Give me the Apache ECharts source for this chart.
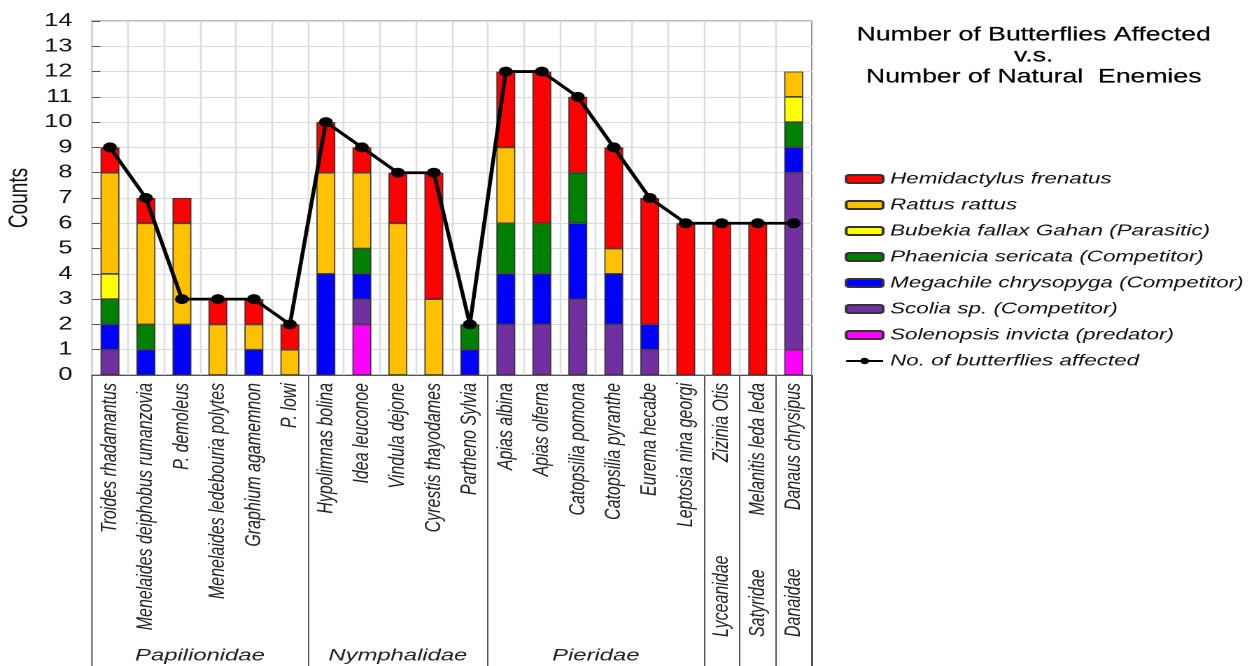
<!DOCTYPE html>
<html>
<head>
<meta charset="utf-8">
<title>Number of Butterflies Affected v.s. Number of Natural Enemies</title>
<script src="https://cdn.jsdelivr.net/npm/echarts@6/dist/echarts.min.js"></script>
<style>
  html, body { margin: 0; padding: 0; background: #ffffff; }
  #wrap { width: 1254px; height: 666px; overflow: hidden; position: relative; }
  /* the figure is laid out on a narrower canvas and widened horizontally */
  #chart { width: 896px; height: 666px; transform: scaleX(1.39955); transform-origin: 0 0; }
</style>
</head>
<body>
<div id="wrap"><div id="chart"></div></div>
<script>
// Butterfly species (x categories), grouped by family
const species = [
  'Troides rhadamantus', 'Menelaides deiphobus rumanzovia', 'P. demoleus',
  'Menelaides ledebouria polytes', 'Graphium agamemnon', 'P. lowi',
  'Hypolimnas bolina', 'Idea leuconoe', 'Vindula dejone', 'Cyrestis thayodames',
  'Partheno Sylvia', 'Apias albina', 'Apias olferna', 'Catopsilia pomona',
  'Catopsilia pyranthe', 'Eurema hecabe', 'Leptosia nina georgi',
  'Zizinia Otis', 'Melanitis leda leda', 'Danaus chrysipus'
];
const families = ['Papilionidae', 'Nymphalidae', 'Pieridae', 'Lyceanidae', 'Satyridae', 'Danaidae'];
const familyFirst = [0, 6, 11, 17, 18, 19];
const familyLast = [5, 10, 16, 17, 18, 19];

// Natural enemies, stacked from the bottom up
const solenopsis   = [0, 0, 0, 0, 0, 0, 0, 2, 0, 0, 0, 0, 0, 0, 0, 0, 0, 0, 0, 1];
const scolia       = [1, 0, 0, 0, 0, 0, 0, 1, 0, 0, 0, 2, 2, 3, 2, 1, 0, 0, 0, 7];
const megachile    = [1, 1, 2, 0, 1, 0, 4, 1, 0, 0, 1, 2, 2, 3, 2, 1, 0, 0, 0, 1];
const phaenicia    = [1, 1, 0, 0, 0, 0, 0, 1, 0, 0, 1, 2, 2, 2, 0, 0, 0, 0, 0, 1];
const bubekia      = [1, 0, 0, 0, 0, 0, 0, 0, 0, 0, 0, 0, 0, 0, 0, 0, 0, 0, 0, 1];
const rattus       = [4, 4, 4, 2, 1, 1, 4, 3, 6, 3, 0, 3, 0, 0, 1, 0, 0, 0, 0, 1];
const hemidactylus = [1, 1, 1, 1, 1, 1, 2, 1, 2, 5, 0, 3, 6, 3, 4, 5, 6, 6, 6, 0];

// Number of butterflies affected
const affected = [9, 7, 3, 3, 3, 2, 10, 9, 8, 8, 2, 12, 12, 11, 9, 7, 6, 6, 6, 6];

const enemyNames = [
  'Solenopsis invicta (predator)', 'Scolia sp. (Competitor)',
  'Megachile chrysopyga (Competitor)', 'Phaenicia sericata (Competitor)',
  'Bubekia fallax Gahan (Parasitic)', 'Rattus rattus', 'Hemidactylus frenatus'
];
const enemyValues = [solenopsis, scolia, megachile, phaenicia, bubekia, rattus, hemidactylus];
const enemyColors = ['#ff00ff', '#7030a0', '#0000ff', '#008000', '#ffff00', '#ffc000', '#ff0000'];
const lineName = 'No. of butterflies affected';

const FONT = "'Liberation Sans', Arial, sans-serif";
const GRID_LEFT = 65.7, GRID_RIGHT = 316;

const barSeries = enemyNames.map((name, i) => ({
  name: name,
  type: 'bar',
  stack: 'enemies',
  barWidth: 13.5,
  xAxisIndex: 0,
  yAxisIndex: 0,
  itemStyle: { color: enemyColors[i], borderColor: '#333333', borderWidth: 0.8 },
  emphasis: { disabled: true },
  data: enemyValues[i].map(v => (v === 0 ? null : v))
}));

const lineSeries = {
  name: lineName,
  type: 'line',
  xAxisIndex: 0,
  yAxisIndex: 0,
  z: 5,
  symbol: 'circle',
  symbolSize: 10,
  itemStyle: { color: '#000000' },
  lineStyle: { color: '#000000', width: 2.8 },
  emphasis: { disabled: true },
  data: affected
};

const chart = echarts.init(document.getElementById('chart'), null, { devicePixelRatio: 2 });

const option = {
  animation: false,
  backgroundColor: '#ffffff',
  title: {
    text: 'Number of Butterflies Affected\nv.s.\nNumber of Natural  Enemies',
    left: 738.6,
    top: 25,
    padding: 0,
    textAlign: 'center',
    textStyle: { fontFamily: FONT, fontSize: 19, fontWeight: 'normal', color: '#000000', lineHeight: 21, align: 'center', textBorderColor: '#000000', textBorderWidth: 0.2 }
  },
  legend: {
    orient: 'vertical',
    left: 603.6,
    top: 169,
    itemWidth: 26.4,
    itemHeight: 8,
    itemGap: 6,
    padding: 0,
    selectedMode: false,
    data: enemyNames.slice().reverse().concat([lineName]),
    textStyle: { fontFamily: FONT, fontSize: 16, fontStyle: 'italic', color: '#111111', lineHeight: 20 }
  },
  grid: [
    { left: GRID_LEFT, right: GRID_RIGHT, top: 21, bottom: 291, show: true, borderColor: '#555555', borderWidth: 1, containLabel: false, outerBoundsMode: 'none' },
    { left: GRID_LEFT, right: GRID_RIGHT, top: 375, bottom: -40, show: true, borderColor: '#555555', borderWidth: 1, containLabel: false, outerBoundsMode: 'none' }
  ],
  xAxis: [
    {
      type: 'category',
      gridIndex: 0,
      data: species,
      axisLine: { show: true, lineStyle: { color: '#555555', width: 1 } },
      axisTick: { show: false },
      splitLine: { show: true, lineStyle: { color: '#dddddd', width: 1.3 } },
      axisLabel: {
        interval: 0, rotate: 90, margin: 8,
        fontFamily: FONT, fontSize: 16, fontStyle: 'italic', color: '#222222'
      }
    },
    {
      type: 'category',
      gridIndex: 1,
      data: species,
      axisLine: { show: false },
      axisTick: { show: false },
      axisLabel: { show: false },
      splitLine: {
        show: true,
        interval: (index) => familyFirst.indexOf(index) > 0,
        lineStyle: { color: '#555555', width: 1 }
      }
    }
  ],
  yAxis: [
    {
      type: 'value',
      gridIndex: 0,
      min: 0,
      max: 14,
      interval: 1,
      name: 'Counts',
      nameLocation: 'middle',
      nameRotate: 90,
      nameGap: 42,
      nameMoveOverlap: false,
      nameTextStyle: { fontFamily: FONT, fontSize: 19, color: '#111111' },
      axisLine: { show: false },
      axisTick: { show: true, inside: true, length: 6, lineStyle: { color: '#555555' } },
      splitLine: { show: true, lineStyle: { color: '#dddddd', width: 1.3 } },
      axisLabel: { margin: 14, fontFamily: FONT, fontSize: 18, color: '#111111' }
    },
    { type: 'value', gridIndex: 1, show: false }
  ],
  series: barSeries.concat([lineSeries])
};

chart.setOption(option);

// Family names under the species labels, centred on each family's span of categories
function familyLabels() {
  const elements = families.map((name, k) => {
    const x0 = chart.convertToPixel({ xAxisIndex: 0 }, familyFirst[k]);
    const x1 = chart.convertToPixel({ xAxisIndex: 0 }, familyLast[k]);
    const cx = (x0 + x1) / 2;
    const single = familyFirst[k] === familyLast[k];
    if (single) {
      return {
        type: 'text', x: cx, y: 637, rotation: Math.PI / 2, silent: true,
        style: { text: name, fontFamily: FONT, fontSize: 16, fontStyle: 'italic', fill: '#222222', align: 'left', verticalAlign: 'middle' }
      };
    }
    return {
      type: 'text', x: cx, y: 656, silent: true,
      style: { text: name, fontFamily: FONT, fontSize: 17, fontStyle: 'italic', fill: '#222222', align: 'center', verticalAlign: 'middle' }
    };
  });
  chart.setOption({ graphic: elements });
}
familyLabels();
</script>
</body>
</html>
